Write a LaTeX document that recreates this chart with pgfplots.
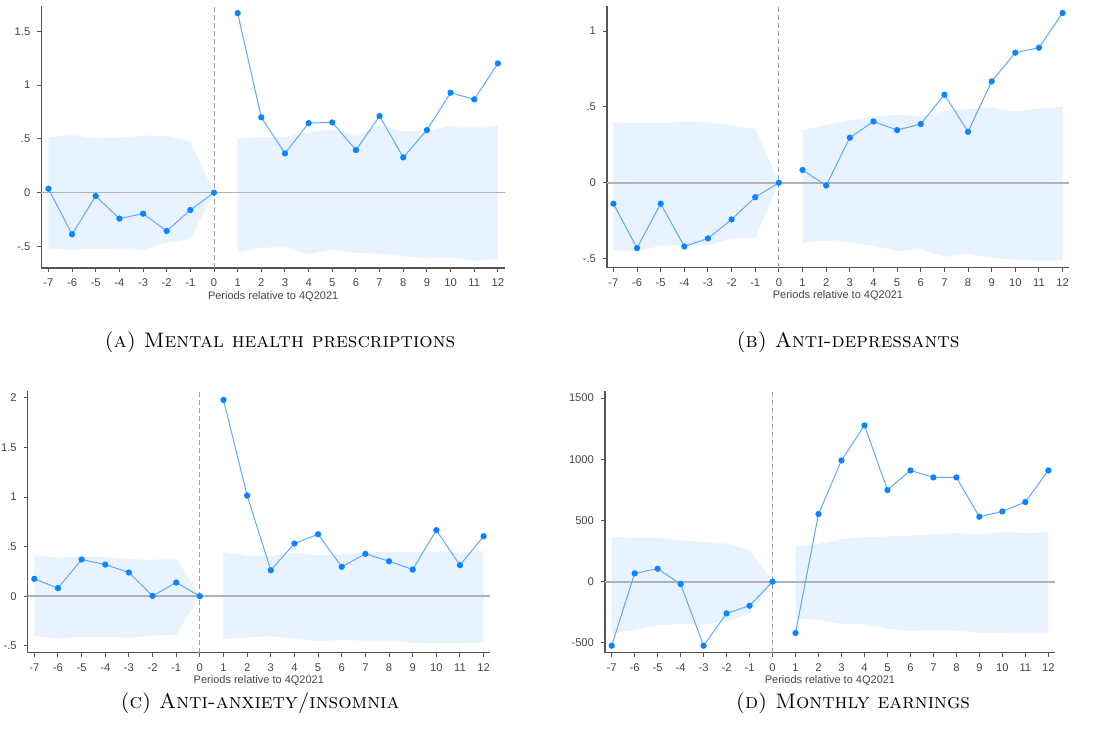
\documentclass[border=0pt]{standalone}
\usepackage{fontspec}
\usepackage{pgfplots}
\pgfplotsset{compat=1.18}
\newfontfamily\tickfont{Liberation Sans}
\newcommand\capfont{\fontsize{10.5}{12.5}\selectfont\scshape}
\definecolor{ptcol}{RGB}{10,132,255}
\definecolor{lncol}{RGB}{95,168,255}
\definecolor{bandcol}{RGB}{232,243,255}
\definecolor{zerocol}{RGB}{178,178,178}
\definecolor{axcol}{RGB}{85,85,85}
\definecolor{dashcol}{RGB}{160,160,160}
\definecolor{tickcol}{RGB}{70,70,70}
\tikzset{
  zl/.style={zerocol, line width=0.8pt},
  vl/.style={dashcol, line width=0.5pt, dash pattern=on 2.3pt off 1.7pt},
}
\pgfplotsset{
  stata/.style={
    scale only axis,
    axis lines*=left,
    axis line style={axcol, line width=0.6pt},
    tick style={axcol, line width=0.5pt},
    tick align=outside,
    major tick length=2pt,
    xtick={-7,...,12},
    xticklabels={-7,-6,-5,-4,-3,-2,-1,0,1,2,3,4,5,6,7,8,9,10,11,12},
    ticklabel style={font=\fontsize{5.6}{6.5}\tickfont, text=tickcol},
    scaled y ticks=false,
    xlabel={Periods relative to 4Q2021},
    xlabel style={font=\fontsize{5.5}{6.5}\tickfont, text=tickcol, yshift=4.7pt},
    clip=false,
  },
  ci/.style={fill=bandcol, draw=none, forget plot},
  est/.style={color=lncol, line width=0.5pt, mark=*, mark size=1.3pt, mark options={fill=ptcol, draw=ptcol}},
}
\begin{document}
\begin{tikzpicture}
\useasboundingbox (0,0) rectangle (547pt,372pt);
% ---------------- Panel A
\begin{axis}[stata, at={(20.65pt,238pt)}, anchor=south west,
  width=231.85pt, height=131pt, xmin=-7.3, xmax=12.3, ymin=-0.70, ymax=1.735,
  ytick={-0.5,0,0.5,1,1.5}, yticklabels={-.5,0,.5,1,1.5}]
\addplot[ci] coordinates {(-7,0.514)(-6,0.535)(-5,0.508)(-4,0.51)(-3,0.532)(-2,0.523)(-1,0.477)(0,0)
  (-1,-0.43)(-2,-0.464)(-3,-0.53)(-4,-0.526)(-5,-0.52)(-6,-0.532)(-7,-0.517)};
\addplot[ci] coordinates {(1,0.505)(2,0.517)(3,0.517)(4,0.56)(5,0.588)(6,0.529)(7,0.625)(8,0.57)(9,0.573)(10,0.619)(11,0.61)(12,0.619)
  (12,-0.616)(11,-0.632)(10,-0.601)(9,-0.613)(8,-0.591)(7,-0.567)(6,-0.56)(5,-0.529)(4,-0.57)(3,-0.508)(2,-0.511)(1,-0.554)};
\draw[zl] (axis cs:-7.3,0) -- (axis cs:12.3,0);
\draw[vl] (axis cs:0,-0.70) -- (axis cs:0,1.735);
\addplot[est] coordinates {(-7,0.037)(-6,-0.387)(-5,-0.031)(-4,-0.241)(-3,-0.195)(-2,-0.356)(-1,-0.161)(0,0)};
\addplot[est] coordinates {(1,1.669)(2,0.70)(3,0.365)(4,0.647)(5,0.653)(6,0.396)(7,0.712)(8,0.328)(9,0.582)(10,0.929)(11,0.867)(12,1.201)};
\end{axis}
% ---------------- Panel B
\begin{axis}[stata, at={(303.5pt,238.15pt)}, anchor=south west,
  width=231pt, height=130.85pt, xmin=-7.27, xmax=12.27, ymin=-0.56, ymax=1.165,
  ytick={-0.5,0,0.5,1}, yticklabels={-.5,0,.5,1}]
\addplot[ci] coordinates {(-7,0.398)(-6,0.393)(-5,0.393)(-4,0.402)(-3,0.398)(-2,0.378)(-1,0.354)(0,0)
  (-1,-0.367)(-2,-0.367)(-3,-0.413)(-4,-0.411)(-5,-0.415)(-6,-0.451)(-7,-0.446)};
\addplot[ci] coordinates {(1,0.347)(2,0.38)(3,0.411)(4,0.435)(5,0.448)(6,0.437)(7,0.47)(8,0.486)(9,0.495)(10,0.468)(11,0.49)(12,0.499)
  (12,-0.514)(11,-0.514)(10,-0.508)(9,-0.495)(8,-0.468)(7,-0.488)(6,-0.437)(5,-0.451)(4,-0.415)(3,-0.393)(2,-0.382)(1,-0.396)};
\draw[zl] (axis cs:-7.27,0) -- (axis cs:12.27,0);
\draw[vl] (axis cs:0,-0.56) -- (axis cs:0,1.165);
\addplot[est] coordinates {(-7,-0.138)(-6,-0.431)(-5,-0.138)(-4,-0.42)(-3,-0.367)(-2,-0.242)(-1,-0.095)(0,0)};
\addplot[est] coordinates {(1,0.084)(2,-0.018)(3,0.297)(4,0.404)(5,0.347)(6,0.387)(7,0.58)(8,0.336)(9,0.668)(10,0.857)(11,0.89)(12,1.119)};
\end{axis}
% ---------------- Panel C
\begin{axis}[stata, at={(13.85pt,45.65pt)}, anchor=south west,
  width=231.15pt, height=130.85pt, xmin=-7.28, xmax=12.27, ymin=-0.57, ymax=2.07,
  ytick={-0.5,0,0.5,1,1.5,2}, yticklabels={-.5,0,.5,1,1.5,2}]
\addplot[ci] coordinates {(-7,0.42)(-6,0.387)(-5,0.403)(-4,0.393)(-3,0.373)(-2,0.366)(-1,0.383)(0,0)
  (-1,-0.387)(-2,-0.397)(-3,-0.42)(-4,-0.41)(-5,-0.41)(-6,-0.43)(-7,-0.40)};
\addplot[ci] coordinates {(1,0.447)(2,0.407)(3,0.403)(4,0.44)(5,0.41)(6,0.424)(7,0.44)(8,0.447)(9,0.447)(10,0.447)(11,0.44)(12,0.454)
  (12,-0.467)(11,-0.474)(10,-0.474)(9,-0.47)(8,-0.45)(7,-0.447)(6,-0.444)(5,-0.454)(4,-0.43)(3,-0.403)(2,-0.417)(1,-0.434)};
\draw[zl] (axis cs:-7.28,0) -- (axis cs:12.27,0);
\draw[vl] (axis cs:0,-0.57) -- (axis cs:0,2.07);
\addplot[est] coordinates {(-7,0.175)(-6,0.081)(-5,0.37)(-4,0.319)(-3,0.239)(-2,0.003)(-1,0.138)(0,0)};
\addplot[est] coordinates {(1,1.98)(2,1.015)(3,0.262)(4,0.531)(5,0.625)(6,0.296)(7,0.427)(8,0.353)(9,0.269)(10,0.666)(11,0.313)(12,0.605)};
\end{axis}
% ---------------- Panel D
\begin{axis}[stata, at={(302.5pt,45.65pt)}, anchor=south west,
  width=225pt, height=130.85pt, xmin=-7.29, xmax=12.29, ymin=-580, ymax=1558,
  ytick={-500,0,500,1000,1500}, yticklabels={-500,0,500,1000,1500}]
\addplot[ci] coordinates {(-7,367)(-6,357)(-5,362)(-4,338)(-3,324)(-2,310)(-1,261)(0,0)
  (-1,-260)(-2,-324)(-3,-351)(-4,-346)(-5,-357)(-6,-395)(-7,-422)};
\addplot[ci] coordinates {(1,289)(2,308)(3,346)(4,365)(5,370)(6,376)(7,389)(8,397)(9,384)(10,408)(11,395)(12,406)
  (12,-422)(11,-422)(10,-419)(9,-419)(8,-400)(7,-397)(6,-403)(5,-381)(4,-348)(3,-343)(2,-313)(1,-299)};
\draw[zl] (axis cs:-7.29,0) -- (axis cs:12.29,0);
\draw[vl] (axis cs:0,-580) -- (axis cs:0,1558);
\addplot[est] coordinates {(-7,-523)(-6,68)(-5,106)(-4,-19)(-3,-523)(-2,-259)(-1,-196)(0,0)};
\addplot[est] coordinates {(1,-419)(2,553)(3,991)(4,1277)(5,749)(6,909)(7,852)(8,852)(9,531)(10,574)(11,651)(12,909)};
\end{axis}
% ---------------- Captions
\node[font=\capfont] at (140pt,201pt) {(a) Mental health prescriptions};
\node[font=\capfont] at (424pt,201pt) {(b) Anti-depressants};
\node[font=\capfont] at (130pt,20.5pt) {(c) Anti-anxiety/insomnia};
\node[font=\capfont] at (426.5pt,20.5pt) {(d) Monthly earnings};
\end{tikzpicture}
\end{document}
